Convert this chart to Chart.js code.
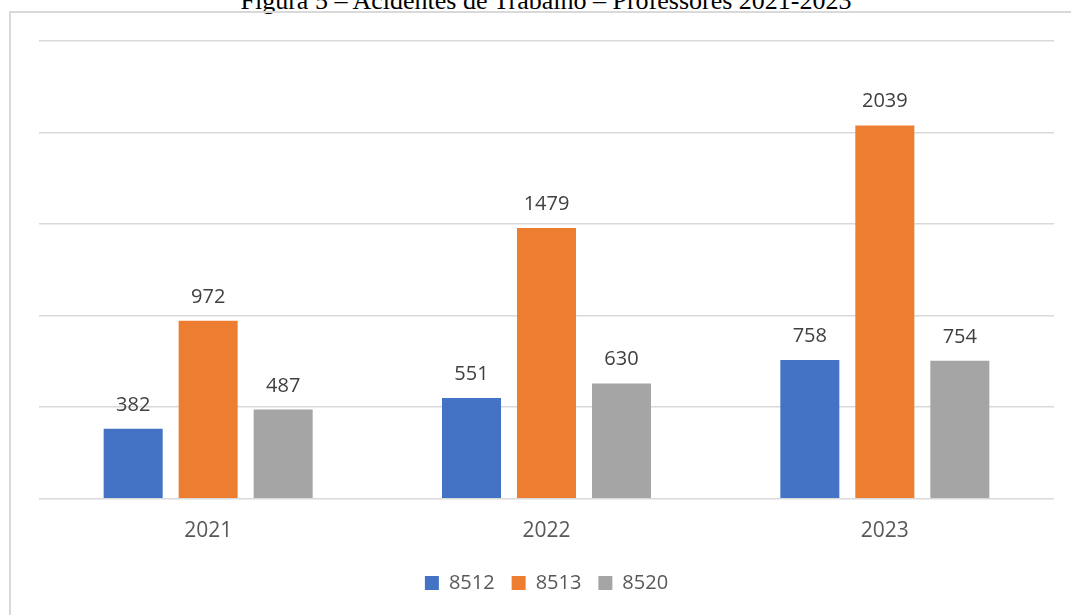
<!DOCTYPE html>
<html>
<head>
<meta charset="utf-8">
<script src="https://cdn.jsdelivr.net/npm/chart.js@4.4.1/dist/chart.umd.min.js"></script>
<style>
  html, body { margin: 0; padding: 0; background: #fff; overflow: hidden; }
  body { width: 1071px; height: 615px; position: relative; }
  #title {
    position: absolute; left: 0; width: 1092px; top: -12px;
    text-align: center; font-family: "Liberation Serif", "Times New Roman", serif;
    font-size: 26px; line-height: 26px; color: #000; white-space: nowrap;
  }
  #frame {
    position: absolute; left: 9px; top: 11px; width: 1100px; height: 700px;
    border: 2px solid #d9d9d9; box-sizing: border-box;
  }
  #wrap { position: absolute; left: 11px; top: 13px; width: 1060px; height: 602px; }
</style>
</head>
<body>
<div id="title">Figura 5 – Acidentes de Trabalho – Professores 2021-2023</div>
<div id="frame"></div>
<div id="wrap"><canvas id="my-chart"></canvas></div>
<script>
const years = ['2021', '2022', '2023'];
const seriesNames = ['8512', '8513', '8520'];
const values8512 = [382, 551, 758];
const values8513 = [972, 1479, 2039];
const values8520 = [487, 630, 754];
const yTicks = [0, 500, 1000, 1500, 2000, 2500];

const colors = ['#4472C4', '#ED7D31', '#A5A5A5'];

// draws the value above every bar
const barLabels = {
  id: 'barLabels',
  afterDatasetsDraw(chart) {
    const ctx = chart.ctx;
    ctx.save();
    ctx.font = '20px "Open Sans", sans-serif';
    ctx.fillStyle = '#404040';
    ctx.textAlign = 'center';
    ctx.textBaseline = 'alphabetic';
    chart.data.datasets.forEach((ds, i) => {
      chart.getDatasetMeta(i).data.forEach((bar, j) => {
        ctx.fillText(String(ds.data[j]), bar.x, bar.y - 18);
      });
    });
    ctx.restore();
  }
};

const ctx = document.getElementById('my-chart').getContext('2d');
const chart = new Chart(ctx, {
  type: 'bar',
  data: {
    labels: years,
    datasets: [
      { label: seriesNames[0], data: values8512, backgroundColor: colors[0] },
      { label: seriesNames[1], data: values8513, backgroundColor: colors[1] },
      { label: seriesNames[2], data: values8520, backgroundColor: colors[2] }
    ]
  },
  options: {
    responsive: true,
    maintainAspectRatio: false,
    animation: false,
    datasets: { bar: { categoryPercentage: 0.665, barPercentage: 0.787 } },
    layout: { padding: { left: 28, right: 17, top: 28, bottom: 12 } },
    scales: {
      x: {
        grid: { display: false },
        border: { display: false },
        ticks: { color: '#595959', font: { family: '"Open Sans", sans-serif', size: 21 }, padding: 12 }
      },
      y: {
        min: yTicks[0],
        max: yTicks[yTicks.length - 1],
        afterBuildTicks: axis => { axis.ticks = yTicks.map(v => ({ value: v })); },
        grid: { color: '#d9d9d9', lineWidth: 1.5, drawTicks: false },
        border: { display: false },
        ticks: { display: false }
      }
    },
    plugins: {
      legend: {
        position: 'bottom',
        labels: {
          boxWidth: 14, boxHeight: 14, padding: 17,
          color: '#595959',
          font: { family: '"Open Sans", sans-serif', size: 20 }
        }
      },
      tooltip: { enabled: false }
    }
  },
  plugins: [barLabels]
});
</script>
</body>
</html>
